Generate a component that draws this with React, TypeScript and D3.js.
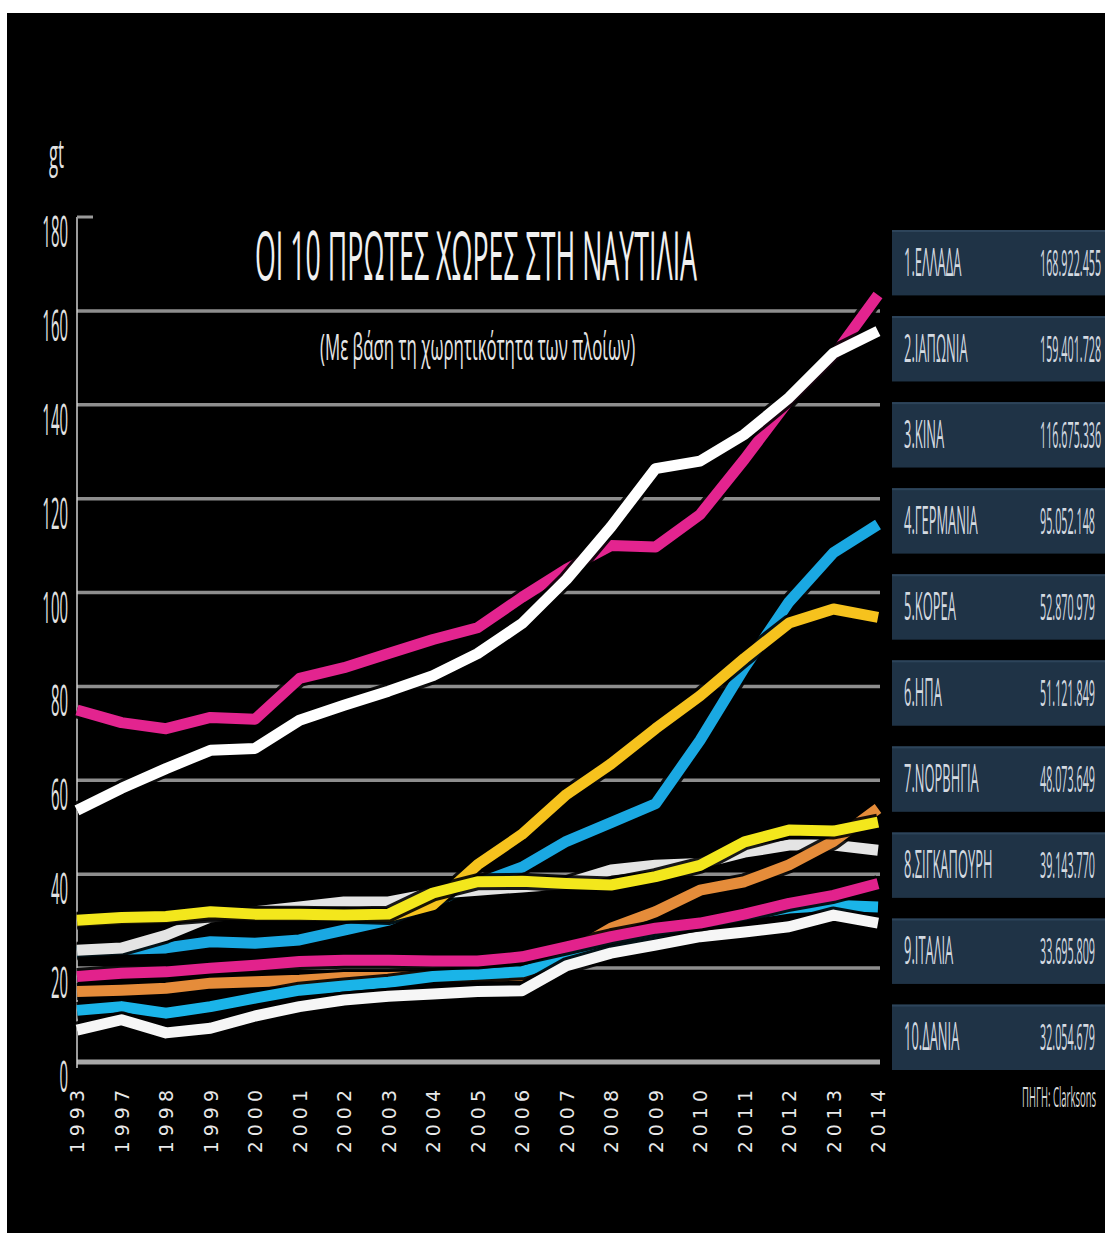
import React, { useLayoutEffect, useRef, useState } from "react";
import * as d3 from "d3";

const years = ["1993", "1997", "1998", "1999", "2000", "2001", "2002", "2003", "2004", "2005", "2006", "2007", "2008", "2009", "2010", "2011", "2012", "2013", "2014"];

const greece = [75, 72.3, 71, 73.4, 73, 81.7, 84, 87, 90, 92.5, 99, 105, 110, 109.7, 116.6, 128.4, 141, 150.4, 163.4];
const japan = [53.6, 58.3, 62.5, 66.4, 66.8, 72.8, 76, 79, 82.3, 87, 93.4, 102.8, 114, 126.4, 128, 133.7, 141.5, 151, 155.7];
const china = [23.5, 24, 24.3, 25.6, 25.3, 26, 28.1, 30.2, 34, 38, 41.5, 47, 51, 55, 68.5, 84, 98, 108.5, 114.5];
const germany = [30, 30.5, 30.8, 31.5, 31.3, 31.2, 31.3, 31, 33.5, 42, 48.5, 57, 63.5, 71, 78, 86, 93.5, 96.5, 94.7];
const korea = [15, 15.3, 15.7, 16.8, 17.1, 17.4, 18, 18, 18.2, 18.3, 18.5, 23, 28.5, 32, 36.6, 38.4, 42, 47, 54];
const usa = [30.2, 30.8, 31, 32, 31.5, 31.5, 31.3, 31.5, 36, 38.4, 38.5, 38, 37.7, 39.5, 41.9, 46.9, 49.4, 49.2, 51.1];
const norway = [23.8, 24.3, 27, 30.9, 32, 33, 34.1, 34.1, 35.9, 36.6, 37.3, 38, 40.9, 41.9, 42.3, 44.7, 46.2, 46.2, 45.1];
const singapore = [18.2, 18.9, 19.2, 20, 20.6, 21.4, 21.7, 21.7, 21.5, 21.5, 22.4, 24.5, 26.7, 28.5, 29.6, 31.5, 33.8, 35.5, 38];
const italy = [11, 11.8, 10.4, 11.8, 13.6, 15.3, 16.2, 17, 18.2, 18.7, 19.2, 22.1, 24.9, 27.4, 29.5, 31.3, 32.8, 33.4, 33];
const denmark = [6.8, 9, 6.2, 7.2, 9.8, 11.8, 13.2, 14, 14.5, 15, 15.2, 20.5, 23.2, 24.9, 26.7, 27.7, 28.8, 31.3, 29.6];

const countries = ["1.ΕΛΛΑΔΑ", "2.ΙΑΠΩΝΙΑ", "3.ΚΙΝΑ", "4.ΓΕΡΜΑΝΙΑ", "5.ΚΟΡΕΑ", "6.ΗΠΑ", "7.ΝΟΡΒΗΓΙΑ", "8.ΣΙΓΚΑΠΟΥΡΗ", "9.ΙΤΑΛΙΑ", "10.ΔΑΝΙΑ"];
const tonnage = ["168.922.455", "159.401.728", "116.675.336", "95.052.148", "52.870.979", "51.121.849", "48.073.649", "39.143.770", "33.695.809", "32.054.679"];

const yTicks = [0, 20, 40, 60, 80, 100, 120, 140, 160, 180];
const gridTicks = [0, 20, 40, 60, 80, 100, 120, 140, 160];

const title = "ΟΙ 10 ΠΡΩΤΕΣ ΧΩΡΕΣ ΣΤΗ ΝΑΥΤΙΛΙΑ";
const subtitle = "(Με βάση τη χωρητικότητα των πλοίων)";
const unitLabel = "gt";
const source = "ΠΗΓΗ: Clarksons";

// drawing order: bottom -> top
const series = [
  { key: "china", values: china, color: "#1aa8e2" },
  { key: "norway", values: norway, color: "#e4e4e4" },
  { key: "korea", values: korea, color: "#e58c3a" },
  { key: "italy", values: italy, color: "#1ab4e8" },
  { key: "denmark", values: denmark, color: "#f6f6f6" },
  { key: "singapore", values: singapore, color: "#e2228c" },
  { key: "germany", values: germany, color: "#f6c21d" },
  { key: "usa", values: usa, color: "#f3e71c" },
  { key: "greece", values: greece, color: "#e3248f" },
  { key: "japan", values: japan, color: "#ffffff" },
];

const COND = "'Open Sans', 'Noto Sans', sans-serif";

function Cond({ x, y, sx, size, anchor, fill, children }: any) {
  return (
    <g transform={`translate(${x},${y}) scale(${sx},1)`}>
      <text x={0} y={0} fontFamily={COND} fontSize={size} textAnchor={anchor || "start"} fill={fill}>
        {children}
      </text>
    </g>
  );
}

function FitText({ x, y, width, size, fill, children }: any) {
  const ref = useRef<SVGTextElement>(null);
  const [sx, setSx] = useState(0.4);
  useLayoutEffect(() => {
    if (ref.current) {
      const len = ref.current.getComputedTextLength();
      if (len > 0) setSx(width / len);
    }
  }, [children, width]);
  return (
    <g transform={`translate(${x},${y}) scale(${sx},1)`}>
      <text ref={ref} x={0} y={0} fontFamily={COND} fontSize={size} fill={fill}>
        {children}
      </text>
    </g>
  );
}

export default function App() {
  const W = 1105;
  const H = 1246;
  const x = d3.scalePoint<string>().domain(years).range([77, 878]);
  const y = d3.scaleLinear().domain([0, 180]).range([1062, 217]);
  const line = d3
    .line<number>()
    .x((_, i) => x(years[i]) as number)
    .y((d) => y(d));
  const band = d3.scaleBand<string>().domain(countries).range([230, 1070]).paddingInner(0.24);

  return (
    <div style={{ position: "absolute", left: 0, top: 0 }}>
      <svg width={W} height={H} style={{ display: "block" }}>
        <rect x={0} y={0} width={W} height={H} fill="#ffffff" />
        <rect x={7} y={13} width={W - 7} height={1220} fill="#000000" />

        {/* gridlines */}
        {gridTicks.map((t) => (
          <line
            key={"g" + t}
            x1={77}
            x2={880}
            y1={y(t)}
            y2={y(t)}
            stroke={t === 0 ? "#a8a8a8" : "#8e8e8e"}
            strokeWidth={t === 0 ? 5 : 3.5}
          />
        ))}
        {/* axis */}
        <line x1={77} x2={77} y1={y(180)} y2={y(0) + 6} stroke="#d0d0d0" strokeWidth={1.5} />
        <line x1={77} x2={93} y1={y(180)} y2={y(180)} stroke="#9a9a9a" strokeWidth={3} />

        {/* y tick labels */}
        {yTicks.map((t) => (
          <Cond key={"yl" + t} x={68} y={y(t) + 30} sx={0.34} size={44} anchor="end" fill="#e2e2e2">
            {String(t)}
          </Cond>
        ))}
        <Cond x={49} y={168} sx={0.42} size={40} fill="#e2e2e2">
          {unitLabel}
        </Cond>

        {/* x tick labels */}
        {years.map((yr) => (
          <text
            key={"xl" + yr}
            transform={`translate(${(x(yr) as number) + 7},1085) rotate(-90)`}
            textAnchor="end"
            fontFamily="'DejaVu Sans', sans-serif"
            fontSize={19}
            letterSpacing={5}
            fill="#e8e8e8"
          >
            {yr}
          </text>
        ))}

        {/* title */}
        <FitText x={255} y={280} width={442} size={67} fill="#f0f0f0">
          {title}
        </FitText>
        <FitText x={320} y={360} width={315} size={37} fill="#e6e6e6">
          {subtitle}
        </FitText>

        {/* lines */}
        {series.map((s) => (
          <g key={s.key}>
            <path d={line(s.values) || ""} fill="none" stroke="#000" strokeOpacity={0.9} strokeWidth={17} strokeLinejoin="round" />
            <path d={line(s.values) || ""} fill="none" stroke={s.color} strokeWidth={11} strokeLinejoin="round" />
          </g>
        ))}

        {/* legend table */}
        {countries.map((c, i) => {
          const by = band(c) as number;
          const bh = band.bandwidth();
          return (
            <g key={"lg" + c}>
              <rect x={892} y={by} width={213} height={bh} fill="#1f3346" />
              <rect x={892} y={by} width={213} height={2} fill="#2d445a" />
              <Cond x={904} y={by + bh / 2 + 13} sx={0.34} size={38} fill="#d4dae1">
                {c}
              </Cond>
              <Cond x={1040} y={by + bh / 2 + 13} sx={0.3} size={36} fill="#d4dae1">
                {tonnage[i]}
              </Cond>
            </g>
          );
        })}
        <Cond x={1022} y={1107} sx={0.34} size={28} fill="#d8d8d8">
          {source}
        </Cond>
      </svg>
    </div>
  );
}
